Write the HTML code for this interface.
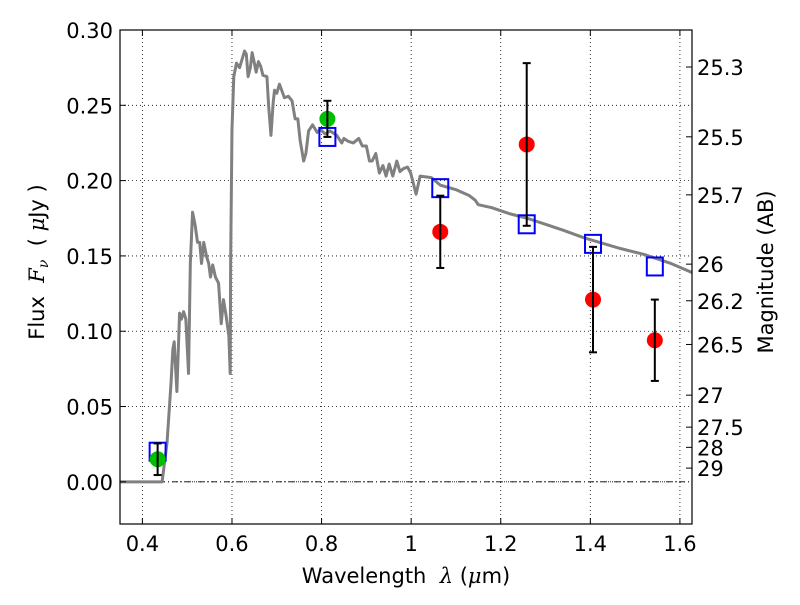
<!DOCTYPE html>
<html><head><meta charset="utf-8"><style>
body{margin:0;background:#fff;width:800px;height:600px;overflow:hidden}
svg{font-family:"DejaVu Sans","Liberation Sans",sans-serif}
</style></head><body>
<svg id="chart" width="800" height="600" xmlns="http://www.w3.org/2000/svg"></svg>
<script>
const xTicks=[0.4,0.6,0.8,1.0,1.2,1.4,1.6];
const xTickLabels=["0.4","0.6","0.8","1","1.2","1.4","1.6"];
const yTicks=[0,0.05,0.10,0.15,0.20,0.25,0.30];
const yTickLabels=["0.00","0.05","0.10","0.15","0.20","0.25","0.30"];
const magTicks=[25.3,25.5,25.7,26,26.2,26.5,27,27.5,28,29];
const magTickLabels=["25.3","25.5","25.7","26","26.2","26.5","27","27.5","28","29"];
const specWave=[0.35,0.442,0.444,0.455,0.464,0.468,0.471,0.477,0.483,0.487,0.492,0.497,0.503,0.507,0.512,0.518,0.523,0.528,0.532,0.537,0.543,0.548,0.552,0.557,0.563,0.570,0.576,0.581,0.587,0.593,0.596,0.597,0.600,0.604,0.610,0.617,0.622,0.628,0.632,0.636,0.641,0.645,0.650,0.654,0.659,0.664,0.669,0.678,0.682,0.687,0.692,0.695,0.700,0.706,0.711,0.717,0.726,0.734,0.741,0.747,0.752,0.760,0.765,0.771,0.780,0.790,0.797,0.808,0.819,0.834,0.845,0.850,0.860,0.871,0.883,0.891,0.900,0.907,0.913,0.921,0.929,0.937,0.944,0.951,0.959,0.968,0.975,0.983,0.992,0.999,1.011,1.020,1.045,1.065,1.100,1.130,1.143,1.150,1.180,1.220,1.259,1.300,1.340,1.386,1.420,1.466,1.520,1.580,1.627];
const specFlux=[0,0,0,0.026,0.066,0.088,0.093,0.060,0.112,0.108,0.113,0.108,0.072,0.145,0.179,0.170,0.159,0.159,0.145,0.159,0.150,0.145,0.136,0.144,0.136,0.132,0.105,0.121,0.110,0.097,0.072,0.145,0.234,0.269,0.278,0.275,0.280,0.286,0.284,0.269,0.275,0.285,0.278,0.272,0.279,0.276,0.270,0.269,0.249,0.230,0.252,0.260,0.258,0.264,0.260,0.255,0.256,0.253,0.241,0.241,0.227,0.213,0.218,0.233,0.237,0.232,0.234,0.231,0.233,0.230,0.225,0.228,0.226,0.225,0.228,0.223,0.223,0.213,0.213,0.218,0.205,0.210,0.203,0.211,0.203,0.213,0.206,0.208,0.209,0.205,0.191,0.203,0.202,0.197,0.194,0.190,0.187,0.184,0.182,0.178,0.175,0.171,0.167,0.162,0.159,0.155,0.151,0.145,0.139];
const greenWave=[0.434,0.813];
const greenFlux=[0.015,0.241];
const greenErr=[0.0105,0.012];
const redWave=[1.065,1.258,1.406,1.544];
const redFlux=[0.166,0.224,0.121,0.094];
const redErr=[0.024,0.054,0.035,0.027];
const boxWave=[0.434,0.813,1.065,1.258,1.406,1.544];
const boxFlux=[0.020,0.229,0.195,0.171,0.158,0.143];

const L=120,R=692,T=30,B=524;
const X0=0.35,X1=1.627,Y0=-0.028,Y1=0.30;
const FS=21;
const sx=v=>L+(v-X0)/(X1-X0)*(R-L);
const sy=v=>B-(v-Y0)/(Y1-Y0)*(B-T);
const svg=document.getElementById('chart');
const NS='http://www.w3.org/2000/svg';
function mk(tag,attrs,parent){const e=document.createElementNS(NS,tag);for(const k in attrs)e.setAttribute(k,attrs[k]);(parent||svg).appendChild(e);return e;}
function txt(x,y,s,anchor,size,parent){const t=mk('text',{x:x,y:y,'text-anchor':anchor,'font-size':size,fill:'#000'},parent);t.textContent=s;return t;}

const grid=mk('g',{});


xTicks.forEach(v=>mk('line',{x1:sx(v),x2:sx(v),y1:T,y2:B,stroke:'#000','stroke-width':0.8,'stroke-dasharray':'1,3'},grid));
yTicks.forEach(v=>mk('line',{x1:L,x2:R,y1:sy(v),y2:sy(v),stroke:'#000','stroke-width':0.8,'stroke-dasharray':'1,3'},grid));
const zl=mk('line',{x1:L,x2:R,y1:sy(0),y2:sy(0),stroke:'#000','stroke-width':0.8,'stroke-dasharray':'6,3,1,3'});



const sp=mk('polyline',{points:specWave.map((w,i)=>sx(w)+','+sy(specFlux[i])).join(' '),fill:'none',stroke:'#808080','stroke-width':3,'stroke-linejoin':'round'});



boxWave.forEach((w,i)=>{const r=mk('rect',{x:sx(w)-8,y:sy(boxFlux[i])-9,width:16,height:18,fill:'none',stroke:'#0000ff','stroke-width':2});

});

function pts(wave,flux,err,color,name){wave.forEach((w,i)=>{
 const g=mk('g',{});
 
 
 mk('circle',{cx:sx(w),cy:sy(flux[i]),r:8,fill:color},g);
 const y1=sy(flux[i]+err[i]),y2=sy(flux[i]-err[i]),x=sx(w);
 mk('line',{x1:x,x2:x,y1:y1,y2:y2,stroke:'#000','stroke-width':2},g);
 mk('line',{x1:x-4,x2:x+4,y1:y1,y2:y1,stroke:'#000','stroke-width':2},g);
 mk('line',{x1:x-4,x2:x+4,y1:y2,y2:y2,stroke:'#000','stroke-width':2},g);
});}
pts(greenWave,greenFlux,greenErr,'#00bf00','detection-point');
pts(redWave,redFlux,redErr,'#ff0000','observed-point');

const frame=mk('rect',{x:L,y:T,width:R-L,height:B-T,fill:'none',stroke:'#000','stroke-width':1.2});



const xa=mk('g',{});


xTicks.forEach((v,i)=>{mk('line',{x1:sx(v),x2:sx(v),y1:B,y2:B-6,stroke:'#000'},xa);mk('line',{x1:sx(v),x2:sx(v),y1:T,y2:T+6,stroke:'#000'},xa);txt(sx(v),551,xTickLabels[i],'middle',FS,xa);});
const ya=mk('g',{});


yTicks.forEach((v,i)=>{mk('line',{x1:L,x2:L+6,y1:sy(v),y2:sy(v),stroke:'#000'},ya);txt(113,sy(v)+8,yTickLabels[i],'end',FS,ya);});
const ma=mk('g',{});


magTicks.forEach((m,i)=>{const f=Math.pow(10,(23.9-m)/2.5);const y=sy(f);mk('line',{x1:R,x2:R-6,y1:y,y2:y,stroke:'#000'},ma);txt(697,y+8,magTickLabels[i],'start',FS,ma);});

const xt=mk('text',{x:406,y:583,'text-anchor':'middle','font-size':FS});


xt.innerHTML='Wavelength &#160;<tspan font-style="italic" font-family="DejaVu Serif,serif">λ</tspan> (<tspan font-style="italic" font-family="DejaVu Serif,serif">μ</tspan>m)';
const yt=mk('text',{x:0,y:0,'text-anchor':'middle','font-size':FS,transform:'translate(44,262) rotate(-90)'});


yt.innerHTML='Flux &#160;<tspan font-style="italic" font-family="DejaVu Serif,serif">F<tspan font-size="14" dy="4">ν</tspan></tspan><tspan dy="-4"> &#160;( </tspan><tspan font-style="italic" font-family="DejaVu Serif,serif">μ</tspan>Jy )';
const mt=mk('text',{x:0,y:0,'text-anchor':'middle','font-size':FS,transform:'translate(773,272) rotate(-90)'});


mt.textContent='Magnitude (AB)';
</script>
</body></html>
